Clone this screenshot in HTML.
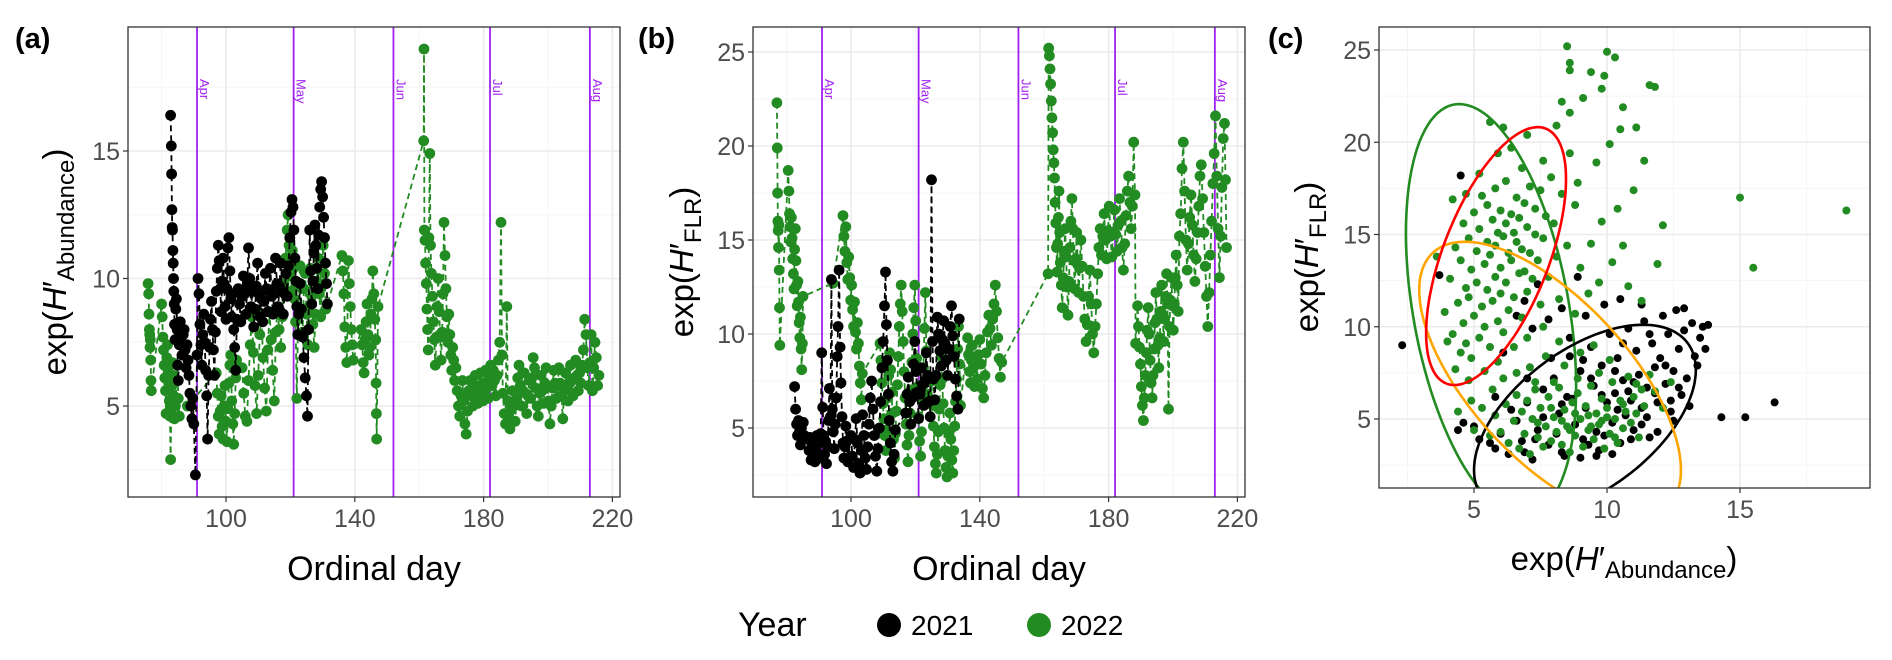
<!DOCTYPE html>
<html><head><meta charset="utf-8"><style>
html,body{margin:0;padding:0;background:#fff}
svg{display:block;font-family:"Liberation Sans",Arial,sans-serif}
</style></head><body>
<svg id="fig" width="1892" height="660" viewBox="0 0 1892 660" xmlns="http://www.w3.org/2000/svg">
<defs>
<clipPath id="clipA"><rect x="128" y="27" width="492" height="470"/></clipPath>
<clipPath id="clipB"><rect x="753" y="27" width="492" height="470"/></clipPath>
<clipPath id="clipC"><rect x="1379" y="27" width="491" height="461"/></clipPath>
</defs>
<g id="root"></g>
</svg>
<script>
// ---------- data ----------
const monthNames = ["Apr","May","Jun","Jul","Aug"];
const monthDays = [91,121,152,182,213];
const dayTicks = [100,140,180,220];
const abundTicks = [5,10,15];
const flrTicks = [5,10,15,20,25];
const scatterXTicks = [5,10,15];
const legendYears = ["2021","2022"];

const aGreen = [[75.8,9.8],[76,9.4],[76.1,8.6],[76.2,8.0],[76.3,7.8],[76.4,7.3],[76.5,7.6],[76.6,6.8],[76.7,6.0],[76.8,5.6],
[80,9.0],[80.2,8.5],[80.4,7.7],[80.6,7.2],[80.8,6.6],[81,6.1],[81.2,5.6],[81.4,4.7],[81.6,6.9],[81.8,7.4],[82,6.4],[82.2,5.9],[82.4,5.2],[82.6,4.6],[82.8,2.9],[83,4.9],[83.2,5.8],[83.4,6.7],[83.6,6.2],[83.8,5.4],[84,4.5],[84.3,5.0],[84.6,6.0],[84.9,6.6],[85.2,5.3],[85.5,4.6],[88,5.0],
[97,6.3],[97.3,5.5],[97.6,4.6],[97.9,3.9],[98.2,4.8],[98.5,5.4],[98.8,4.2],[99.1,3.7],[99.4,5.0],[99.7,5.8],[100,4.4],[100.3,3.6],[100.6,4.9],[100.9,5.9],[101.2,6.6],[101.5,7.0],[101.8,5.2],[102.1,4.3],[102.4,3.5],[102.7,4.7],[103,6.1],[103.3,6.8],
[105,6.5],[105.5,5.5],[106,4.6],[106.5,4.4],[107,6.0],[107.5,7.4],[108,8.5],[108.5,7.1],[109,5.8],[109.5,4.7],[110,6.2],[110.5,7.8],[111,8.6],[111.5,6.9],[112,5.7],[112.5,4.8],[113,7.2],[113.5,8.7],[114,7.6],[114.5,6.4],[115,5.2],[115.5,7.9],[116,8.9],[116.5,8.0],[117,7.3],[117.5,8.5],[118,9.8],[118.5,10.8],[119,11.9],[119.3,12.5],[119.6,11.3],[120,10.1],[120.3,9.5],[120.6,11.1],[121,10.4],[121.3,9.2],[121.6,8.3],[122,5.3],[122.3,7.8],[122.6,9.7],[123,10.5],[123.4,8.8],[123.8,7.9],[124.2,9.6],[124.6,10.2],[125,8.6],[125.4,7.4],[125.8,8.9],[126.2,10.4],[126.6,9.3],[127,8.2],[127.4,7.3],[127.8,8.6],[128.2,9.9],[128.6,10.8],[129,9.4],[129.4,8.5],[129.8,9.7],[130.2,11.3],[130.6,10.2],[131,8.8],
[136,10.9],[136.3,10.3],[136.6,9.4],[136.9,8.1],[137.2,7.3],[137.5,6.7],[138,10.7],[138.3,9.8],[138.6,8.9],[138.9,8.0],[139.2,7.4],[139.5,6.8],
[142,8.0],[142.3,7.4],[142.6,6.7],[142.9,6.3],[143.2,7.6],[143.5,8.3],[143.8,9.0],[144.1,7.8],[144.4,7.0],[144.7,7.3],[145,8.6],[145.3,9.2],[145.6,10.3],[145.9,9.4],[146.2,8.4],[146.5,7.6],[146.6,5.9],[146.7,4.7],[146.8,3.7],[147.2,8.9],
[161.4,15.4],[161.5,19.0],[161.6,11.9],[161.8,11.5],[162,10.6],[162.2,9.8],[162.4,8.8],[162.6,8.0],[162.8,7.2],[163,11.6],[163.3,14.9],[163.5,11.3],[163.8,10.2],[164.1,9.3],[164.4,8.3],[164.7,7.6],[165,6.6],[165.3,7.7],[165.6,8.9],[165.9,10.0],[166.2,8.7],[166.5,7.7],[166.8,6.8],[167.1,7.9],[167.4,9.4],[167.7,12.2],[168,10.9],[168.3,9.6],[168.6,8.5],[168.9,7.5],[169.2,8.6],[169.5,7.8],[169.8,7.0],[170.1,6.4],[170.4,7.3],[170.7,6.8],[171,6.0],[171.4,6.5],[171.8,5.6],[172.2,5.0],[172.6,4.6],[173,5.4],[173.4,6.0],[173.8,5.2],[174.2,4.3],[174.6,3.9],[175,4.8],[175.4,5.6],[175.8,6.0],[176.2,5.4],[176.6,5.0],[177,5.7],[177.4,6.2],[177.8,5.5],[178.2,5.1],[178.6,5.8],[179,6.3],[179.4,5.6],[179.8,5.2],[180.2,5.9],[180.6,6.4],[181,5.7],[181.4,5.3],[181.8,6.1],[182.2,6.6],[182.6,5.8],[183,6.4],[183.4,6.0],[183.8,5.4],[184.2,6.2],[184.6,6.8],[185,7.5],[185.4,12.2],[185.7,7.0],[186,5.5],[186.4,4.7],[186.8,4.3],[187.2,8.9],[187.5,5.2],[187.8,4.6],[188.2,4.1],[188.6,4.9],[189,5.6],[189.4,5.0],[189.8,4.4],[190.2,5.3],[190.6,6.1],[191,6.6],[191.4,5.8],[191.8,5.0],[192.2,5.6],[192.6,6.3],[193,5.5],[193.4,4.7],[193.8,5.4],[194.2,6.0],[194.6,5.3],[195,6.1],[195.4,6.9],[195.8,6.5],[196.2,5.7],[196.6,5.0],[197,4.6],[197.4,5.5],[197.8,6.2],[198.2,5.6],[198.6,5.1],[199,5.9],[199.4,6.5],[199.8,5.8],[200.2,5.2],[200.6,4.3],[201,5.0],[201.4,5.7],[201.8,6.4],[202.2,5.9],[202.6,5.3],[203,5.8],[203.4,6.5],[203.8,5.9],[204.2,5.4],[204.6,4.5],[205,5.6],[205.4,6.3],[205.8,5.7],[206.2,5.2],[206.6,5.9],[207,6.6],[207.4,6.0],[207.8,5.4],[208.2,6.1],[208.6,6.8],[209,6.2],[209.4,5.6],[209.8,6.3],[210.2,5.9],[210.6,6.6],[211,7.2],[211.4,8.4],[211.8,7.8],[212.2,6.5],[212.6,5.8],[213,6.7],[213.4,7.8],[213.8,5.6],[214.2,6.5],[214.6,7.5],[215,6.9],[215.4,5.8],[215.8,6.2]];

const aBlack = [[82.8,16.4],[83,15.2],[83.1,14.1],[83.2,12.7],[83.3,12.0],[83.4,11.9],[83.5,11.1],[83.6,10.6],[83.7,10.0],[83.8,9.5],[83.9,9.0],[84,8.2],[84.2,7.6],[84.4,8.8],[84.6,9.2],[84.8,8.0],[85,6.6],[85.2,6.0],[85.5,7.4],[85.8,8.3],[86.1,7.7],[86.4,7.0],[86.7,7.8],[87,8.0],[87.3,7.2],[87.6,6.5],[87.9,7.4],[88.2,6.8],[88.5,6.2],[88.8,5.5],[89.1,5.0],[89.4,4.5],[89.7,5.3],[90,4.3],[90.5,2.3],[91,7.0],[91.3,10.0],[91.6,9.4],[91.9,8.2],[92.2,7.4],[92.5,6.6],[92.8,7.8],[93.1,8.6],[93.4,7.5],[93.7,6.4],[94,5.4],[94.3,3.7],[94.6,6.2],[94.9,7.3],[95.2,8.4],[95.5,9.1],[95.8,8.0],[96.1,7.2],[96.4,6.2],[96.7,7.9],[97,9.5],[97.3,10.4],[97.6,11.3],[97.9,10.7],[98.2,9.6],[98.5,8.7],[98.8,9.9],[99.1,10.8],[99.4,9.8],[99.7,8.9],[100,8.4],[100.3,9.6],[100.6,11.2],[100.9,11.6],[101.2,10.3],[101.5,9.2],[101.8,8.5],[102.1,9.4],[102.4,8.0],[102.7,7.3],[103,6.4],[103.4,8.4],[103.8,9.6],[104.2,9.0],[104.6,8.3],[105,9.3],[105.4,10.1],[105.8,9.4],[106.2,8.6],[106.6,9.8],[107,11.2],[107.4,10.0],[107.8,8.9],[108.2,9.5],[108.6,8.1],[109,8.8],[109.4,9.7],[109.8,10.6],[110.2,9.4],[110.6,8.5],[111,9.2],[111.4,8.3],[111.8,9.1],[112.2,10.2],[112.6,9.6],[113,8.7],[113.4,9.5],[113.8,10.4],[114.2,9.3],[114.6,8.6],[115,9.6],[115.4,10.8],[115.8,9.8],[116.2,8.9],[116.6,9.7],[117,10.6],[117.4,9.5],[117.8,8.6],[118.2,9.4],[118.6,10.2],[119,9.3],[119.4,10.5],[119.8,11.6],[120.2,12.6],[120.5,13.1],[120.8,12.8],[121.1,11.9],[121.4,10.8],[121.7,9.9],[122,8.9],[122.3,7.8],[122.6,8.6],[123,9.8],[123.4,8.8],[123.8,7.7],[124.2,6.9],[124.6,6.1],[125,5.4],[125.3,4.6],[125.6,8.0],[126,11.9],[126.3,10.3],[126.6,9.0],[127,9.9],[127.3,11.0],[127.6,12.1],[127.9,11.3],[128.2,10.4],[128.5,9.6],[128.8,11.7],[129.1,12.8],[129.4,13.5],[129.7,13.8],[130,13.2],[130.3,12.4],[130.6,11.6],[130.9,10.6],[131.2,9.8],[131.5,9.0]];

const bGreen = [[77,22.3],[77.1,19.9],[77.2,17.5],[77.3,16.0],[77.4,15.5],[77.5,14.6],[77.6,15.8],[77.7,13.4],[77.8,11.4],[77.9,9.4],
[80.5,18.7],[80.7,17.6],[80.9,16.4],[81.1,15.7],[81.3,14.9],[81.5,16.2],[81.7,15.1],[81.9,14.0],[82.1,13.2],[82.3,12.4],[82.5,14.5],[82.7,15.6],[82.9,13.9],[83.1,12.6],[83.3,11.5],[83.5,12.8],[83.7,11.7],[83.9,10.6],[84.1,9.8],[84.3,10.9],[84.5,9.2],[84.7,8.1],[84.9,9.5],[85.1,12.0],[94.4,12.7],
[97.5,16.3],[97.8,15.2],[98.1,14.4],[98.4,15.7],[98.7,13.8],[99,12.9],[99.3,14.1],[99.6,13.0],[99.9,11.8],[100.2,12.6],[100.5,11.3],[100.8,10.4],[101.1,11.7],[101.4,10.1],[101.7,9.2],[102,10.6],[102.3,9.5],[102.6,8.3],[102.9,7.4],[103.2,6.5],[103.5,7.9],
[109,9.5],[109.3,8.6],[109.6,7.4],[109.9,6.3],[110.2,5.5],[110.5,4.6],[110.8,3.8],[111.1,4.9],[111.4,6.6],[111.7,7.8],[112,9.0],[112.3,8.1],[112.6,6.9],[112.9,5.8],[113.2,4.4],[113.5,3.4],[113.8,4.7],[114.1,5.9],[114.4,7.3],[114.7,8.8],[115,10.4],[115.3,11.6],[115.6,12.6],[115.9,11.2],[116.2,9.6],[116.5,8.0],[116.8,6.6],[117.1,5.2],[117.4,4.1],[117.7,3.2],[118,4.6],[118.3,5.8],[118.6,7.0],[118.9,8.5],[119.2,10.0],[119.5,11.4],[119.8,12.6],[120.1,10.7],[120.4,8.7],[120.7,7.2],[121,5.6],[121.3,4.3],[121.6,3.5],[121.9,4.8],[122.2,6.4],[122.5,8.2],[122.8,10.3],[123.1,12.2],[123.4,9.1],[123.7,6.8],
[125,7.5],[125.3,6.2],[125.6,5.1],[125.9,4.0],[126.2,3.1],[126.5,2.6],[126.8,3.6],[127.1,4.8],[127.4,6.0],[127.7,7.3],[128,8.8],[128.3,7.6],[128.6,6.3],[128.9,5.0],[129.2,3.8],[129.5,2.9],[129.8,2.4],[130.1,3.5],[130.4,4.7],[130.7,5.8],[131,4.4],[131.3,3.3],[131.6,2.6],[131.9,3.8],[132.2,5.1],[132.5,6.4],[132.8,7.6],[133.1,9.2],[133.4,10.4],[133.7,8.4],[134,6.2],
[136.2,9.8],[136.5,8.9],[136.8,8.0],[137.1,7.4],[137.4,8.6],[137.7,9.4],[138,8.2],[138.4,7.2],[138.8,8.5],[139.2,7.6],[139.6,8.9],[140,9.7],[140.4,8.4],[140.8,7.1],[141.2,6.6],[141.6,7.8],[142,9.0],[142.4,10.1],[142.8,11.0],[143.2,10.3],[143.6,9.4],[144,10.8],[144.4,11.6],[144.8,12.6],[145.2,11.2],[145.6,9.8],[146,8.7],[146.4,7.7],[146.8,8.5],
[161.2,13.2],[161.4,25.2],[161.6,24.8],[161.8,24.1],[162,23.3],[162.2,22.4],[162.4,21.5],[162.6,20.7],[162.8,19.8],[163,19.1],[163.2,18.3],[163.4,17.0],[163.6,15.9],[163.8,14.6],[164,13.3],[164.2,14.8],[164.4,16.2],[164.6,17.6],[164.8,15.4],[165,13.8],[165.3,12.6],[165.6,11.4],[165.9,13.0],[166.2,14.4],[166.5,15.6],[166.8,14.1],[167.1,12.5],[167.4,11.0],[167.7,12.8],[168,14.6],[168.3,16.0],[168.6,17.2],[168.9,15.6],[169.2,13.9],[169.5,12.4],[169.8,14.0],[170.1,15.4],[170.4,13.7],[170.7,12.2],[171,13.5],[171.4,15.0],[171.8,13.6],[172.2,12.0],[172.6,10.8],[173,9.6],[173.4,10.5],[173.8,12.0],[174.2,13.4],[174.6,11.6],[175,10.0],[175.4,9.0],[175.8,10.4],[176.2,11.6],[176.6,13.2],[177,14.6],[177.4,15.6],[177.8,14.2],[178.2,15.2],[178.6,16.4],[179,15.0],[179.4,14.0],[179.8,15.5],[180.2,16.8],[180.6,15.2],[181,14.1],[181.4,15.4],[181.8,16.6],[182.2,15.3],[182.6,14.4],[183,15.8],[183.4,17.2],[183.8,16.0],[184.2,14.6],[184.6,13.4],[185,14.8],[185.4,16.3],[185.8,17.6],[186.2,18.4],[186.6,17.0],[187,15.6],[187.4,16.8],[187.8,20.2],[188.2,17.4],[188.4,9.5],
[189,11.5],[189.3,10.4],[189.6,9.3],[189.9,8.4],[190.2,7.2],[190.5,6.2],[190.8,5.4],[191.1,6.6],[191.4,7.8],[191.7,9.0],[192,10.2],[192.3,11.4],[192.6,10.0],[192.9,8.6],[193.2,7.4],[193.5,6.6],[193.8,7.8],[194.1,9.2],[194.4,10.6],[194.7,12.2],[195,10.8],[195.3,9.4],[195.6,8.2],[195.9,9.8],[196.2,11.2],[196.5,12.6],[196.8,11.0],[197.1,9.6],[197.4,10.8],[197.7,12.0],[198,13.2],[198.3,11.6],[198.6,6.0],[198.9,10.4],[199.2,11.8],[199.5,13.0],[199.8,11.5],[200.1,10.2],[200.4,11.6],[200.7,13.0],[201,14.2],[201.3,12.6],[201.6,11.2],
[202,15.2],[202.4,16.4],[202.8,18.8],[203.2,20.2],[203.6,17.6],[204,15.0],[204.4,13.4],[204.8,14.8],[205.2,16.2],[205.6,17.4],[206,15.8],[206.4,14.2],[206.8,12.8],[207.2,14.0],[207.6,15.4],[208,16.8],[208.4,18.4],[208.8,19.0],[209.2,17.2],[209.6,15.4],[210,13.6],[210.4,12.0],[210.8,10.4],[211.2,12.2],[211.6,14.2],[212,16.0],[212.4,18.0],[212.8,19.6],[213.2,21.6],[213.6,18.4],[214,15.6],[214.4,13.0],[214.8,15.2],[215.2,17.8],[215.6,20.4],[216,21.2],[216.3,18.2],[216.6,14.6]];

const bBlack = [[82.5,7.2],[82.8,6.0],[83.1,5.2],[83.4,4.6],[83.7,5.4],[84,4.8],[84.3,4.1],[84.6,5.0],[84.9,4.4],[85.2,5.3],[85.5,4.6],
[87,3.8],[87.3,4.5],[87.6,3.3],[87.9,4.1],[88.2,3.6],[88.5,4.4],[88.8,3.2],[89.1,3.9],[89.4,4.6],[89.7,3.5],[90,4.2],[90.3,3.4],[90.6,4.7],[90.9,9.0],[91.2,6.1],[91.5,4.6],[91.8,3.6],[92.1,4.3],[92.4,3.1],[92.7,4.0],[93,5.4],[93.3,7.1],[93.6,5.6],[93.9,12.9],[94.2,6.0],[94.5,4.8],[94.8,3.9],[95.1,5.2],[95.4,6.6],[95.7,8.8],[96,10.4],[96.3,13.4],[96.6,9.3],[96.9,7.4],[97.2,5.6],[97.5,4.2],[97.8,3.4],[98.1,4.0],[98.4,5.1],[98.7,4.3],[99,3.2],
[100,4.6],[100.4,3.5],[100.8,2.9],[101.2,4.4],[101.6,5.5],[102,4.2],[102.4,3.1],[102.8,2.6],[103.2,3.8],[103.6,5.7],[104,4.6],[104.4,3.4],[104.8,2.8],[105.2,4.0],[105.6,5.2],[106,6.6],[106.4,7.5],[106.8,6.0],[107.2,4.6],[107.6,3.5],[108,2.7],[108.4,3.9],[108.8,5.0],[109.2,6.4],[109.6,8.2],[110,9.6],[110.4,11.5],[110.7,13.3],[111,10.5],[111.3,8.6],[111.6,6.8],[111.9,5.4],[112.2,4.2],[112.6,3.2],[113,2.7],[113.4,3.6],[113.8,4.9],
[117,5.8],[117.4,6.8],[117.8,7.7],[118.2,6.4],[118.6,5.2],[119,6.6],[119.4,8.4],[119.8,9.6],[120.2,8.0],[120.6,6.9],[121,5.5],[121.4,6.8],[121.8,8.2],[122.2,7.3],[122.6,6.2],[123,7.5],[123.4,9.0],[123.8,7.8],[124.2,6.4],[124.6,5.6],[125,18.2],[125.3,9.6],[125.6,7.6],[126,6.5],[126.4,7.8],[126.8,10.9],[127.2,10.0],[127.6,9.1],[128,8.3],[128.4,9.7],[128.8,10.7],[129.2,9.5],[129.6,8.6],[130,7.8],[130.4,9.2],[130.8,10.4],[131.2,11.5],[131.6,9.9],[132,8.8],[132.4,7.6],[132.8,6.7],[133.2,6.0],[133.6,10.8]];

const cBlack = [[2.3,9.0],[4.4,4.4],[4.6,4.8],[5.0,4.6],[5.2,3.9],[5.6,3.7],[5.8,3.4],[6.0,4.2],[6.3,3.1],[6.6,4.9],[6.8,3.8],[7.0,5.9],[7.2,2.8],[7.4,4.4],[7.6,6.6],[7.8,3.6],[8.0,7.2],[8.2,5.3],[8.3,3.2],[8.5,6.2],[8.6,8.4],[8.8,4.7],[9.0,7.6],[9.1,3.9],[9.2,5.6],[9.4,8.9],[9.5,6.8],[9.6,4.3],[9.7,3.3],[9.8,7.9],[10.0,5.9],[10.1,9.6],[10.2,4.8],[10.3,6.4],[10.4,8.3],[10.5,3.7],[10.6,7.1],[10.7,5.2],[10.8,9.9],[10.9,6.0],[11.0,4.4],[11.1,8.7],[11.2,7.4],[11.3,5.6],[11.4,10.3],[11.5,6.7],[11.6,4.0],[11.7,9.1],[11.8,7.8],[11.9,5.9],[12.0,8.3],[12.1,10.6],[12.2,6.9],[12.3,9.6],[12.4,5.4],[12.5,7.6],[12.6,10.9],[12.7,8.8],[12.8,6.3],[12.9,9.8],[13.0,7.2],[13.2,10.2],[13.3,8.4],[13.5,9.4],[13.6,10.0],[13.8,10.1],[14.3,5.1],[15.2,5.1],[16.3,5.9],[3.7,12.8],[6.6,10.6],[6.9,11.4],[7.4,12.3],[4.5,18.2],[7.8,10.4],[8.3,11.0],[8.9,12.7],[9.9,11.2],[9.2,10.6],[7.2,9.9],[6.1,8.6],[5.8,6.2],[6.4,5.5],[7.0,7.2],[7.6,5.1],[8.1,4.2],[8.7,6.1],[9.3,3.6],[9.9,4.1],[10.4,5.5],[10.9,3.9],[11.3,4.7],[11.9,4.3],[12.5,4.9],[13.1,5.7],[8.4,3.0],[9.0,2.9],[9.6,3.0],[10.2,3.1],[7.9,8.3],[8.6,9.4],[9.4,7.2],[10.6,9.1],[11.6,9.6],[12.7,6.7],[13.4,7.9],[12.9,11.0],[11.3,11.2],[10.5,11.5],[9.1,8.2],[8.3,5.8],[7.3,3.9],[6.9,3.2],[10.8,6.5],[11.5,5.1],[12.2,7.9],[13.7,8.8],[9.8,6.3],[10.3,7.6],[11.0,7.0],[11.8,6.4],[12.4,6.0]];

const cGreen = [[3.9,10.8],[4.1,12.6],[4.2,9.6],[4.3,14.3],[4.4,11.3],[4.5,8.6],[4.5,13.6],[4.6,10.2],[4.6,15.6],[4.7,12.1],[4.7,9.1],[4.8,14.8],[4.8,11.6],[4.9,8.3],[4.9,13.1],[5.0,16.2],[5.0,10.6],[5.1,12.4],[5.1,14.1],[5.2,9.4],[5.2,15.3],[5.3,11.1],[5.3,17.1],[5.4,13.4],[5.4,10.0],[5.5,14.6],[5.5,12.0],[5.5,16.6],[5.6,8.9],[5.6,13.9],[5.7,15.8],[5.7,11.4],[5.8,14.4],[5.8,12.7],[5.8,17.5],[5.9,10.3],[5.9,15.1],[6.0,13.2],[6.0,16.3],[6.0,11.8],[6.1,14.9],[6.1,9.7],[6.2,15.6],[6.2,12.4],[6.2,17.9],[6.3,14.0],[6.3,10.9],[6.4,16.1],[6.4,13.6],[6.5,15.1],[6.5,11.6],[6.6,14.6],[6.6,17.0],[6.7,12.9],[6.7,15.9],[6.8,10.5],[6.8,14.2],[6.9,16.7],[6.9,13.0],[7.0,15.4],[7.0,11.9],[7.1,17.6],[7.1,14.0],[7.2,12.6],[7.3,16.4],[7.3,15.0],[7.4,13.6],[7.5,17.4],[7.5,11.2],[7.6,14.8],[7.7,16.0],[7.8,12.7],[7.9,18.1],[8.0,15.6],[8.1,13.8],[8.2,11.5],[8.3,17.2],[8.5,14.4],[8.6,19.4],[8.8,16.6],[9.0,13.2],
[5.9,19.4],[6.4,19.7],[7.0,20.4],[7.6,19.0],[8.1,20.9],[6.8,18.6],[5.2,18.3],[4.7,17.2],[3.6,13.8],[4.2,16.9],[5.6,21.1],[6.1,20.8],[4.0,9.2],[4.3,7.7],[4.8,7.1],[5.4,7.6],[5.9,8.1],[6.5,8.9],[7.0,9.4],[7.6,10.0],[8.2,9.2],[8.8,10.7],[9.3,11.8],[9.7,12.4],[10.2,13.5],[10.6,14.4],[9.4,14.5],[9.8,15.7],[10.4,16.4],[8.9,17.8],[9.6,18.9],[10.1,19.9],[11.0,17.4],[11.4,19.0],[11.8,23.0],[11.6,23.1],[11.1,20.8],[10.5,20.7],[10.0,24.9],[10.3,24.6],[9.9,23.6],[9.4,23.8],[8.5,25.2],[8.6,23.9],[8.6,24.3],[8.3,22.2],[8.6,21.6],[9.1,22.4],[9.8,22.9],[10.6,21.9],[12.1,15.5],[11.3,11.4],[10.8,12.2],[11.9,13.4],[15.0,17.0],[15.5,13.2],[19.0,16.3],[4.4,5.4],[4.9,6.0],[5.3,5.6],[5.0,4.4],[5.6,4.1],
[5.8,5.2],[6.0,4.3],[6.2,5.8],[6.3,3.7],[6.5,4.9],[6.6,6.3],[6.7,3.4],[6.8,5.4],[6.9,4.2],[7.0,6.0],[7.1,3.1],[7.2,5.0],[7.3,6.6],[7.4,4.0],[7.5,5.6],[7.6,3.5],[7.7,4.6],[7.8,6.2],[7.9,3.8],[8.0,5.1],[8.1,4.3],[8.2,6.7],[8.3,3.6],[8.4,5.5],[8.5,4.6],[8.6,3.2],[8.7,5.9],[8.8,4.1],[8.9,6.4],[9.0,5.0],[9.1,3.5],[9.2,5.7],[9.3,4.4],[9.4,6.8],[9.5,3.9],[9.6,5.3],[9.7,4.7],[9.8,6.1],[9.9,3.4],[10.0,5.6],[10.1,4.2],[10.2,7.0],[10.3,5.0],[10.4,3.7],[10.5,6.0],[10.6,4.5],[10.7,5.4],[10.8,7.3],[10.9,4.8],[11.0,6.2],[11.1,5.3],[11.2,4.0],[11.3,6.6],[11.4,5.7],[11.6,7.4],[11.8,6.5],[12.1,5.6],[12.4,7.0],[5.7,6.6],[6.1,7.2],[6.6,7.5],[7.1,7.8],[7.7,8.4],[8.4,7.9],[9.0,8.6],[9.5,9.0],[10.1,8.2],[8.3,4.9],[8.8,5.3],[9.3,5.2],[9.8,4.9],[10.3,4.0],[7.4,4.8],[7.9,5.6],[8.6,4.4],[9.4,4.6],[10.0,5.1],[10.6,5.8],[11.1,6.9],[9.7,7.5],[8.9,7.2],[8.0,7.0],[7.3,7.0]];

// ellipses: [cx, cy, A, B, C] in data units: x=cx+A cos t, y=cy+B cos t+C sin t
const ellipseGreen = [5.64,10.91,3.2,-4.17,10.35];
const ellipseRed = [5.83,13.83,2.63,4.17,5.61];
const ellipseOrange = [7.86,7.11,4.92,-4.88,5.69];
const ellipseBlack = [9.17,4.95,4.17,2.71,4.39];

// ---------- helpers ----------
const NS="http://www.w3.org/2000/svg";
const root=document.getElementById('root');
function mk(tag,attrs,parent,text){const e=document.createElementNS(NS,tag);for(const k in attrs)e.setAttribute(k,attrs[k]);if(text!==undefined)e.textContent=text;(parent||root).appendChild(e);return e;}
const GREEN="#228b22", GRID="#ebebeb", GRIDMIN="#f5f5f5", TICKC="#4d4d4d", PURPLE="#a020f0";

const dayA = d => 226 + (d-100)*3.22;
const dayB = d => 851 + (d-100)*3.22;
const yA = v => 406 - (v-5)*25.5;
const yB = v => 428 - (v-5)*18.8;
const xC = v => 1474 + (v-5)*26.6;
const yC = v => 419 - (v-5)*18.45;

function panelFrame(name,x0,y0,w,h,xs,xMaj,xMin,ys,yMaj,yMin){
  const g=mk('g',{});
  
  
  mk('rect',{x:x0,y:y0,width:w,height:h,fill:'#fff'},g);
  xMin.forEach(v=>mk('line',{x1:xs(v),x2:xs(v),y1:y0,y2:y0+h,stroke:GRIDMIN,'stroke-width':1},g));
  yMin.forEach(v=>mk('line',{x1:x0,x2:x0+w,y1:ys(v),y2:ys(v),stroke:GRIDMIN,'stroke-width':1},g));
  xMaj.forEach(v=>mk('line',{x1:xs(v),x2:xs(v),y1:y0,y2:y0+h,stroke:GRID,'stroke-width':1.6},g));
  yMaj.forEach(v=>mk('line',{x1:x0,x2:x0+w,y1:ys(v),y2:ys(v),stroke:GRID,'stroke-width':1.6},g));
  xMaj.forEach(v=>{
    mk('line',{x1:xs(v),x2:xs(v),y1:y0+h,y2:y0+h+5,stroke:'#333','stroke-width':1.2},g);
    const t=mk('text',{x:xs(v),y:y0+h+30,'text-anchor':'middle','font-size':25,fill:TICKC},g,String(v));
    
    
  });
  yMaj.forEach(v=>{
    mk('line',{x1:x0-5,x2:x0,y1:ys(v),y2:ys(v),stroke:'#333','stroke-width':1.2},g);
    const t=mk('text',{x:x0-8,y:ys(v)+9,'text-anchor':'end','font-size':25,fill:TICKC},g,String(v));
    
    
  });
  return g;
}
function border(x0,y0,w,h){mk('rect',{x:x0,y:y0,width:w,height:h,fill:'none',stroke:'#333','stroke-width':1.3});}

function months(xs,y0,h,clip){
  const g=mk('g',{'clip-path':clip});
  
  
  monthDays.forEach((d,i)=>{
    mk('line',{x1:xs(d),x2:xs(d),y1:y0,y2:y0+h,stroke:PURPLE,'stroke-width':1.8},g);
    const t=mk('text',{x:0,y:0,transform:`translate(${xs(d)+3},${y0+52}) rotate(90)`,'font-size':13,fill:PURPLE},g,monthNames[i]);
    
    
  });
}
function series(data,xs,ys,color,clip,name,r){
  const g=mk('g',{'clip-path':clip});
  
  
  const d=data.map((p,i)=>(i?'L':'M')+xs(p[0]).toFixed(1)+' '+ys(p[1]).toFixed(1)).join(' ');
  mk('path',{d:d,fill:'none',stroke:color,'stroke-width':1.8,'stroke-dasharray':'6,4'},g);
  data.forEach(p=>{
    const c=mk('circle',{cx:xs(p[0]).toFixed(1),cy:ys(p[1]).toFixed(1),r:r,fill:color},g);
    
    
  });
}
function scatter(data,color,name){
  const g=mk('g',{'clip-path':'url(#clipC)'});
  
  
  data.forEach(p=>{
    const c=mk('circle',{cx:xC(p[0]).toFixed(1),cy:yC(p[1]).toFixed(1),r:4,fill:color},g);
    
    
  });
}
function ellipse(par,color,name){
  let d='';
  for(let i=0;i<=120;i++){const t=i/120*2*Math.PI;
    const x=par[0]+par[2]*Math.cos(t), y=par[1]+par[3]*Math.cos(t)+par[4]*Math.sin(t);
    d+=(i?'L':'M')+xC(x).toFixed(1)+' '+yC(y).toFixed(1);}
  const p=mk('path',{d:d+'Z',fill:'none',stroke:color,'stroke-width':2.6,'clip-path':'url(#clipC)'});
  
  
}
function ytitle(x,y,sub){
  const t=mk('text',{x:0,y:0,transform:`translate(${x},${y}) rotate(-90)`,'text-anchor':'middle','font-size':33,fill:'#000'});
  
  
  t.innerHTML=`exp(<tspan font-style="italic">H</tspan>′<tspan font-size="24" dy="8">${sub}</tspan><tspan dy="-8">)</tspan>`;
}
function plabel(x,txt,name){const t=mk('text',{x:x,y:48,'font-size':29,'font-weight':'bold',fill:'#000'},root,txt);
  
  }

// ---------- panel a ----------
panelFrame('panel-a',128,27,492,470,dayA,dayTicks,[80,120,160,200],yA,abundTicks,[2.5,7.5,12.5,17.5]);
months(dayA,27,470,'url(#clipA)');
series(aGreen,dayA,yA,GREEN,'url(#clipA)','series-a-2022',5.4);
series(aBlack,dayA,yA,'#000','url(#clipA)','series-a-2021',5.4);
border(128,27,492,470);
ytitle(66,262,'Abundance');
{const t=mk('text',{x:374,y:580,'text-anchor':'middle','font-size':34,fill:'#000'},root,'Ordinal day');

}
plabel(15,'(a)','panel-label-a');

// ---------- panel b ----------
panelFrame('panel-b',753,27,492,470,dayB,dayTicks,[80,120,160,200],yB,flrTicks,[2.5,7.5,12.5,17.5,22.5]);
months(dayB,27,470,'url(#clipB)');
series(bGreen,dayB,yB,GREEN,'url(#clipB)','series-b-2022',5.4);
series(bBlack,dayB,yB,'#000','url(#clipB)','series-b-2021',5.4);
border(753,27,492,470);
ytitle(693,262,'FLR');
{const t=mk('text',{x:999,y:580,'text-anchor':'middle','font-size':34,fill:'#000'},root,'Ordinal day');

}
plabel(638,'(b)','panel-label-b');

// ---------- panel c ----------
panelFrame('panel-c',1379,27,491,461,xC,scatterXTicks,[2.5,7.5,12.5,17.5],yC,flrTicks,[2.5,7.5,12.5,17.5,22.5]);
scatter(cBlack,'#000','scatter-2021');
scatter(cGreen,GREEN,'scatter-2022');
ellipse(ellipseGreen,GREEN,'ellipse-green');
ellipse(ellipseBlack,'#000','ellipse-black');
ellipse(ellipseOrange,'#ffa500','ellipse-orange');
ellipse(ellipseRed,'#ff0000','ellipse-red');
border(1379,27,491,461);
ytitle(1318,257,'FLR');
{const t=mk('text',{x:1624,y:570,'text-anchor':'middle','font-size':33,fill:'#000'});


t.innerHTML='exp(<tspan font-style="italic">H</tspan>′<tspan font-size="24" dy="8">Abundance</tspan><tspan dy="-8">)</tspan>';}
plabel(1268,'(c)','panel-label-c');

// ---------- legend ----------
{const g=mk('g',{});


const t=mk('text',{x:738,y:636,'font-size':34,fill:'#000'},g,'Year');


const cols=['#000',GREEN], xs=[889,1039];
legendYears.forEach((yr,i)=>{
  const e=mk('g',{},g);
  
  
  mk('circle',{cx:xs[i],cy:625,r:12,fill:cols[i]},e);
  mk('text',{x:xs[i]+22,y:635,'font-size':28,fill:'#000'},e,yr);
});}
</script>
</body></html>
